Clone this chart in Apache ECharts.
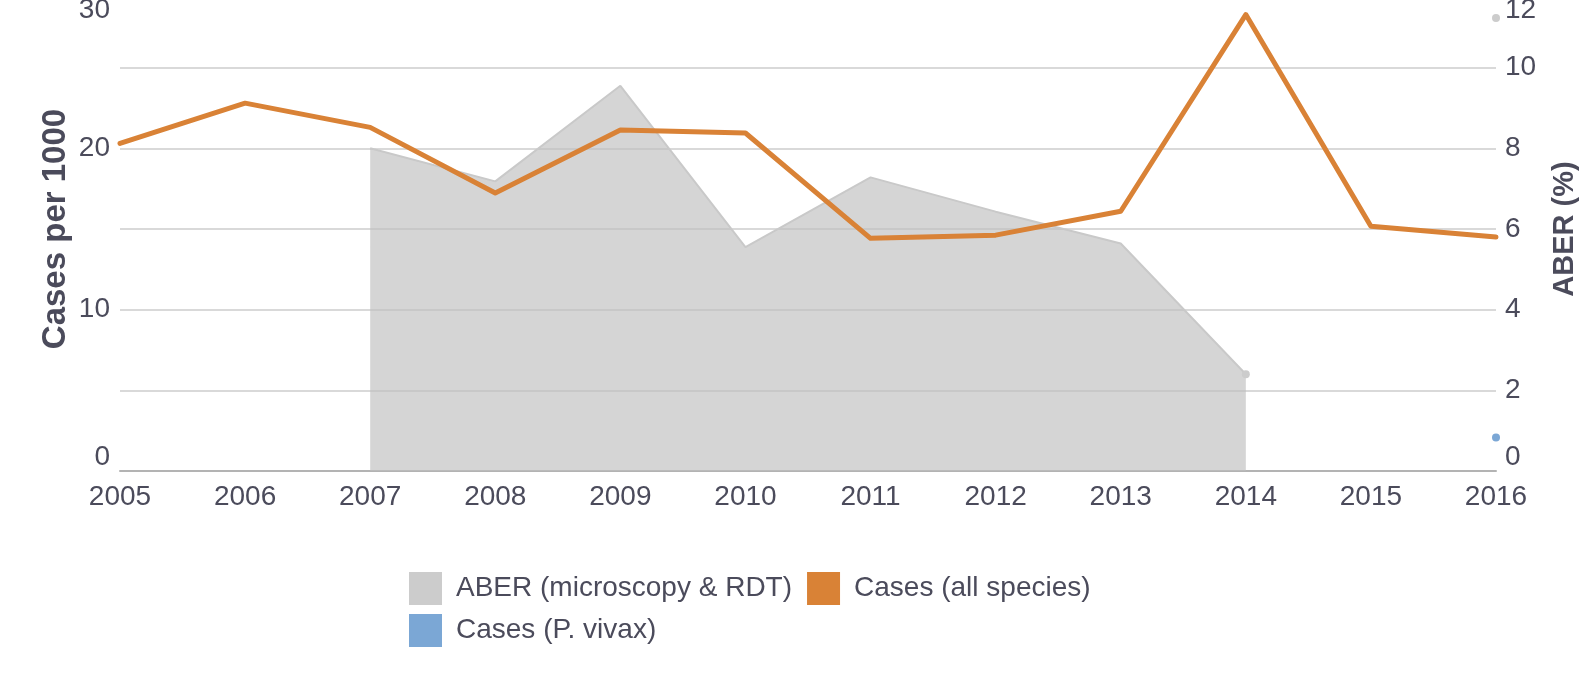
<!DOCTYPE html>
<html>
<head>
<meta charset="utf-8">
<script src="https://cdn.jsdelivr.net/npm/echarts@6/dist/echarts.min.js"></script>
<style>
  html, body { margin: 0; padding: 0; background: #fff; }
  #chart { width: 1584px; height: 686px; }
</style>
</head>
<body>
<div id="chart"></div>
<script>
const years = ['2005', '2006', '2007', '2008', '2009', '2010', '2011', '2012', '2013', '2014', '2015', '2016'];
// ABER (%) - right axis
const aber = [null, null, 8.0, 7.18, 9.55, 5.55, 7.28, 6.43, 5.64, 2.4, null, 11.23];
// cases per 1000 - left axis
const casesAll = [20.3, 22.8, 21.3, 17.23, 21.13, 20.95, 14.42, 14.62, 16.1, 28.29, 15.17, 14.5];
const casesVivax = [null, null, null, null, null, null, null, null, null, null, null, 2.08];

const textColor = '#4b4b5b';
const font = 'Liberation Sans, Arial, Helvetica, sans-serif';

const chart = echarts.init(document.getElementById('chart'));

// label shift at the ends of the axis, like the original
function richLabel(size) {
  return {
    lo: { fontSize: size, color: textColor, fontFamily: font, padding: [0, 0, 28, 0] },
    hi: { fontSize: size, color: textColor, fontFamily: font, padding: [46, 0, 0, 0] }
  };
}

const legendCommon = {
  padding: 0,
  itemWidth: 33,
  itemHeight: 33,
  itemGap: 15,
  icon: 'rect',
  textStyle: { fontSize: 28, color: textColor, fontFamily: font, padding: [0, 0, 0, 9] }
};

const option = {
  animation: false,
  textStyle: { fontFamily: font },
  grid: { left: 120, right: 88, top: -13, bottom: 215, outerBoundsMode: 'none' },
  legend: [
    Object.assign({ left: 409, top: 572, data: ['ABER (microscopy & RDT)', 'Cases (all species)'] }, legendCommon),
    Object.assign({ left: 409, top: 614, data: ['Cases (P. vivax)'] }, legendCommon)
  ],
  xAxis: {
    type: 'category',
    data: years,
    boundaryGap: false,
    axisTick: { show: false },
    axisLine: { lineStyle: { color: '#b3b3b3', width: 2 } },
    axisLabel: { fontSize: 28, color: textColor, margin: 12 }
  },
  yAxis: [
    {
      type: 'value',
      min: 0,
      max: 30,
      interval: 5,
      name: 'Cases per 1000',
      nameLocation: 'middle',
      nameGap: 48,
      nameMoveOverlap: false,
      nameTextStyle: { fontSize: 33, fontWeight: 'bold', color: textColor },
      axisLine: { show: false },
      axisTick: { show: false },
      splitLine: { lineStyle: { color: '#d9d9d9', width: 2 } },
      axisLabel: {
        fontSize: 28,
        color: textColor,
        margin: 10,
        formatter: function (v) {
          if (v % 10 !== 0) return '';
          if (v === 0) return '{lo|0}';
          if (v === 30) return '{hi|30}';
          return String(v);
        },
        rich: richLabel(28)
      }
    },
    {
      type: 'value',
      min: 0,
      max: 12,
      interval: 2,
      name: 'ABER (%)',
      nameLocation: 'middle',
      nameGap: 54,
      nameTextStyle: { fontSize: 29, fontWeight: 'bold', color: textColor },
      axisLine: { show: false },
      axisTick: { show: false },
      splitLine: { show: false },
      axisLabel: {
        fontSize: 28,
        color: textColor,
        margin: 9,
        formatter: function (v) {
          if (v === 0) return '{lo|0}';
          if (v === 12) return '{hi|12}';
          return String(v);
        },
        rich: richLabel(28)
      }
    }
  ],
  series: [
    {
      name: 'ABER (microscopy & RDT)',
      type: 'line',
      yAxisIndex: 1,
      data: aber,
      symbol: 'circle',
      symbolSize: function (v, p) {
        const i = p.dataIndex;
        return (i === aber.length - 1 || aber[i + 1] == null) ? 8 : 0;
      },
      itemStyle: { color: '#cccccc' },
      lineStyle: { color: '#c9c9c9', width: 2 },
      areaStyle: { color: 'rgba(190,190,190,0.65)', opacity: 1 }
    },
    {
      name: 'Cases (all species)',
      type: 'line',
      yAxisIndex: 0,
      data: casesAll,
      symbol: 'none',
      itemStyle: { color: '#d98236' },
      lineStyle: { color: '#d98236', width: 5, join: 'round', cap: 'round' }
    },
    {
      name: 'Cases (P. vivax)',
      type: 'line',
      yAxisIndex: 0,
      data: casesVivax,
      symbol: 'circle',
      symbolSize: 8,
      showSymbol: true,
      itemStyle: { color: '#7ba7d5' },
      lineStyle: { color: '#7ba7d5', width: 3 }
    }
  ]
};

chart.setOption(option);
</script>
</body>
</html>
